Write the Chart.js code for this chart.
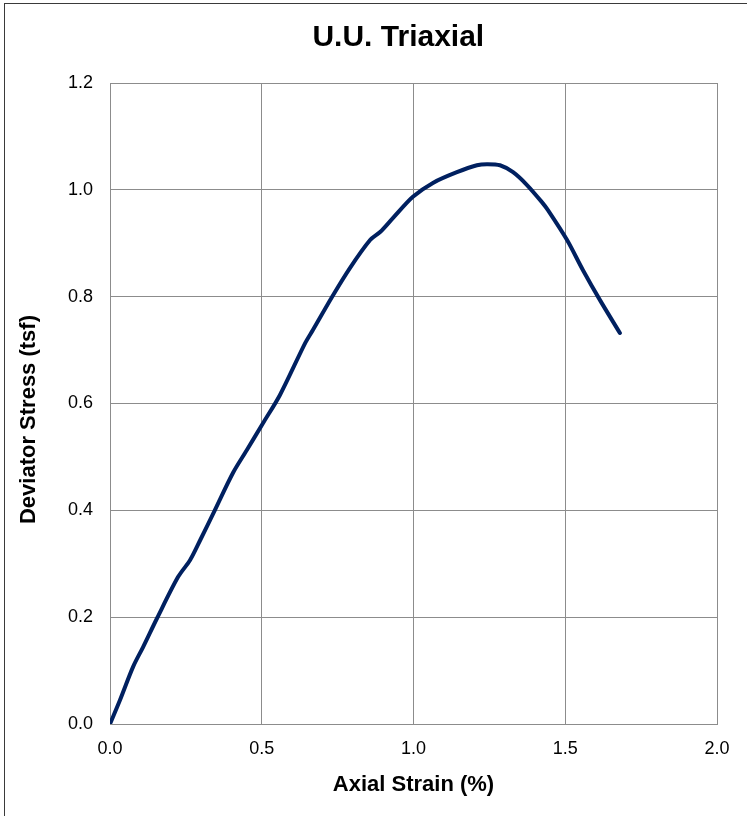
<!DOCTYPE html>
<html>
<head>
<meta charset="utf-8">
<title>U.U. Triaxial</title>
<script src="https://cdn.jsdelivr.net/npm/chart.js@4/dist/chart.umd.min.js"></script>
<style>
  html, body { margin: 0; padding: 0; background: #ffffff; }
  #wrap { width: 747px; height: 816px; position: relative; }
</style>
</head>
<body>
<div id="wrap"><canvas id="c" width="747" height="816"></canvas></div>
<script>
// Stress-strain record of the unconsolidated-undrained triaxial test
const axialStrain = [0, 0.033, 0.076, 0.109, 0.155, 0.224, 0.264, 0.297, 0.346, 0.405, 0.451, 0.504,
  0.560, 0.643, 0.669, 0.731, 0.791, 0.857, 0.890, 0.932, 0.998, 1.064, 1.143, 1.209, 1.242, 1.285,
  1.328, 1.374, 1.423, 1.443, 1.506, 1.558, 1.614, 1.680];
const deviatorStress = [0, 0.045, 0.107, 0.144, 0.198, 0.275, 0.307, 0.344, 0.401, 0.470, 0.513, 0.563,
  0.616, 0.713, 0.738, 0.799, 0.854, 0.906, 0.921, 0.947, 0.987, 1.013, 1.033, 1.046, 1.048, 1.046,
  1.033, 1.009, 0.977, 0.962, 0.906, 0.850, 0.794, 0.732];

const xTicks = [0, 0.5, 1.0, 1.5, 2.0];
const yTicks = [0, 0.2, 0.4, 0.6, 0.8, 1.0, 1.2];

const chartTitle = 'U.U. Triaxial';
const xTitle = 'Axial Strain (%)';
const yTitle = 'Deviator Stress (tsf)';

const points = axialStrain.map((x, i) => ({ x: x, y: deviatorStress[i] }));

const FONT = '"Liberation Sans", Arial, sans-serif';
const GRID = '#8c8c8c';

// White background and the outer frame of the chart area
const framePlugin = {
  id: 'frame',
  beforeDraw(chart) {
    const ctx = chart.ctx;
    ctx.save();
    ctx.fillStyle = '#ffffff';
    ctx.fillRect(0, 0, chart.width, chart.height);
    ctx.strokeStyle = '#3a3a3a';
    ctx.lineWidth = 1;
    ctx.strokeRect(4.5, 3.5, chart.width + 10, chart.height + 10);
    ctx.restore();
  }
};

// Chart title and vertical axis title, placed slightly off the plot centre
const headingsPlugin = {
  id: 'headings',
  afterDraw(chart) {
    const ctx = chart.ctx;
    const area = chart.chartArea;
    ctx.save();
    ctx.fillStyle = '#000000';
    ctx.textAlign = 'center';
    ctx.textBaseline = 'middle';
    ctx.font = 'bold 30px ' + FONT;
    ctx.fillText(chartTitle, area.left + (area.right - area.left) * 0.475, 38);
    ctx.translate(29, area.top + (area.bottom - area.top) * 0.525);
    ctx.rotate(-Math.PI / 2);
    ctx.font = 'bold 22px ' + FONT;
    ctx.fillText(yTitle, 0, 0);
    ctx.restore();
  }
};

new Chart(document.getElementById('c'), {
  type: 'line',
  data: {
    datasets: [{
      data: points,
      borderColor: '#002060',
      backgroundColor: '#002060',
      borderWidth: 4,
      borderCapStyle: 'round',
      borderJoinStyle: 'round',
      pointRadius: 0,
      pointHoverRadius: 0,
      tension: 0.3,
      fill: false
    }]
  },
  options: {
    responsive: false,
    animation: false,
    events: [],
    layout: { padding: { left: 4, right: 30, top: 83, bottom: 0 } },
    plugins: {
      legend: { display: false },
      tooltip: { enabled: false },
      title: { display: false }
    },
    scales: {
      x: {
        type: 'linear',
        min: 0,
        max: 2,
        afterBuildTicks(scale) { scale.ticks = xTicks.map(v => ({ value: v })); },
        afterFit(scale) { scale.height = 92; },
        grid: { color: GRID, lineWidth: 1, drawTicks: false },
        border: { color: GRID, width: 1 },
        ticks: {
          color: '#000000',
          padding: 14,
          maxRotation: 0,
          font: { family: FONT, size: 18 },
          callback: v => Number(v).toFixed(1)
        },
        title: {
          display: true,
          text: xTitle,
          color: '#000000',
          font: { family: FONT, size: 22, weight: 'bold', lineHeight: 1.2 },
          padding: { top: 18, bottom: 18 }
        }
      },
      y: {
        type: 'linear',
        min: 0,
        max: 1.2,
        afterBuildTicks(scale) { scale.ticks = yTicks.map(v => ({ value: v })); },
        afterFit(scale) { scale.width = 106; },
        grid: { color: GRID, lineWidth: 1, drawTicks: false },
        border: { color: GRID, width: 1 },
        ticks: {
          color: '#000000',
          padding: 17,
          font: { family: FONT, size: 18 },
          callback: v => Number(v).toFixed(1)
        },
        title: { display: false }
      }
    }
  },
  plugins: [framePlugin, headingsPlugin]
});
</script>
</body>
</html>
